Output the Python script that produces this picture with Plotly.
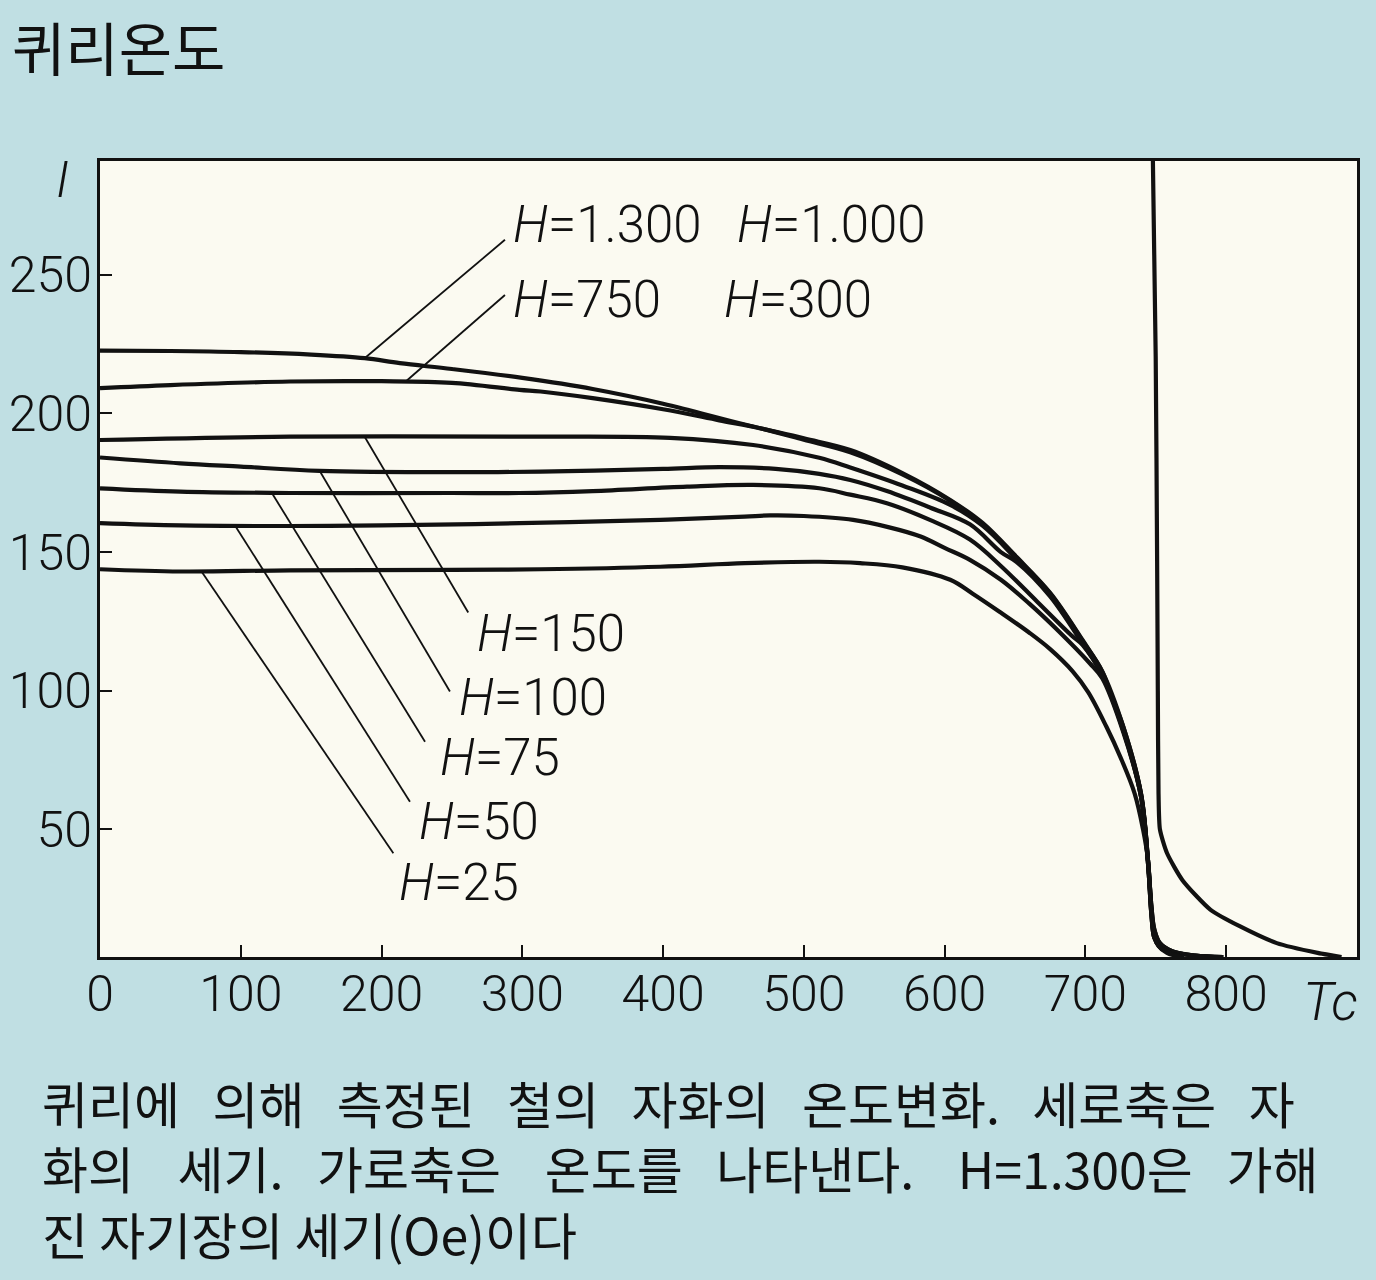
import numpy as np
import plotly.graph_objects as go

# ---------------- data ----------------
# temperature (deg C) and intensity of magnetisation I for each applied field H (Oe)
T_1300 = [0, 50, 100, 150, 188, 213, 250, 300, 350, 400, 458, 500, 533, 570, 604, 627, 651, 675, 698, 712, 718, 727, 739.5, 744.5, 747, 749, 753, 762, 778, 798]
I_1300 = [222.6, 222.5, 222.1, 221.2, 219.9, 218.1, 216.0, 212.8, 208.8, 203.5, 196.0, 191.0, 186.8, 178.5, 168.8, 160.5, 148.3, 135.3, 118.3, 107, 99, 87, 63, 39, 22, 14, 9, 6, 4.5, 4]

T_750 = [0, 50, 135, 200, 250, 298, 313, 350, 400, 440, 470, 500, 533, 570, 604, 627, 651, 675, 698, 712, 727, 739.5, 744.5, 747, 749, 753, 762, 778, 798]
I_750 = [209.1, 210.2, 211.5, 211.6, 211.0, 208.5, 207.9, 205.5, 201.5, 197.5, 194.5, 190.5, 186.0, 178.0, 168.5, 160.0, 148.0, 135.0, 118.0, 107, 87, 63, 39, 22, 14, 9, 6, 4.5, 4]

T_150 = [0, 135, 298, 405, 464, 511, 533, 570, 604, 627, 651, 675, 698, 712, 727, 739.5, 744.5, 747, 749, 753, 762, 778, 798]
I_150 = [190.4, 191.6, 191.6, 191.2, 188.6, 184.0, 180.5, 174.0, 167.0, 159.5, 147.5, 134.5, 117.5, 106, 86, 63, 39, 21, 13, 8.5, 6, 4.5, 4]

T_100 = [0, 57, 100, 156, 250, 313, 400, 440, 480, 511, 533, 559, 590, 618, 640, 651, 675, 698, 712, 727, 739.5, 744.5, 747, 749, 753, 760, 770]
I_100 = [184.1, 182.0, 180.8, 179.3, 178.8, 179.0, 180.0, 180.6, 180.0, 178.2, 176.0, 172.0, 166.0, 160.0, 150.0, 146.5, 134.0, 117.0, 106, 86, 62, 38, 19, 11, 7.5, 5.5, 4]

T_75 = [0, 57, 135, 250, 298, 350, 417, 464, 511, 533, 559, 590, 618, 640, 666, 690, 698, 712, 727, 739.5, 744.5, 747, 749, 753, 760, 770]
I_75 = [173.0, 171.8, 171.3, 171.3, 171.3, 172.0, 173.6, 174.2, 173.0, 170.7, 167.6, 161.5, 154.5, 145.0, 132.0, 120.0, 116.5, 105.5, 85.5, 62, 38, 19, 11, 7.5, 5.5, 4]

T_50 = [0, 57, 135, 200, 298, 398, 458, 476, 500, 535, 560, 583, 600, 618, 640, 660, 680, 703, 712, 727, 739.5, 744.5, 747, 749, 753, 760, 770]
I_50 = [160.4, 159.6, 159.4, 159.6, 160.4, 161.6, 162.8, 163.2, 163.0, 161.6, 159.0, 155.6, 151.5, 147.2, 140.0, 131.5, 122.0, 110.0, 104.5, 85.0, 62, 38, 19, 11, 7.5, 5.5, 4]

T_25 = [0, 57, 135, 250, 313, 398, 458, 511, 540, 570, 604, 620, 639, 660, 675, 691, 702, 715, 725, 735, 741, 744.5, 747, 749, 752, 758, 768]
I_25 = [143.8, 143.0, 143.4, 143.6, 143.8, 144.7, 146.0, 146.5, 146.0, 144.5, 140.0, 135.0, 128.5, 121.0, 115.0, 107.0, 99.5, 87.0, 76.0, 63.0, 50.0, 39.0, 20, 12, 8, 5.5, 4]

# steep line at the Curie point and its paramagnetic tail
T_curie = [748, 750, 751, 751.5, 752, 753, 758, 769, 789, 810, 836, 865, 882]
I_curie = [291, 220, 147, 100, 63, 50, 41.5, 31.7, 21, 15, 9, 5.5, 4]

X_TICKS = [0, 100, 200, 300, 400, 500, 600, 700, 800]
X_TICKTEXT = ["0", "100", "200", "300", "400", "500", "600", "700", "800"]
Y_TICKS = [50, 100, 150, 200, 250]
Y_TICKTEXT = ["50", "100", "150", "200", "250"]

SERIES = [
    ("H=1300, H=1000", T_1300, I_1300),
    ("H=750, H=300", T_750, I_750),
    ("H=150", T_150, I_150),
    ("H=100", T_100, I_100),
    ("H=75", T_75, I_75),
    ("H=50", T_50, I_50),
    ("H=25", T_25, I_25),
]

# curve labels: (texts, index of series, temperature where the leader meets the curve)
LABELS = [
    (["<i>H</i>=1.300", "<i>H</i>=1.000"], 0, 188),
    (["<i>H</i>=750", "<i>H</i>=300"], 1, 217),
    (["<i>H</i>=150"], 2, 188),
    (["<i>H</i>=100"], 3, 156),
    (["<i>H</i>=75"], 4, 122),
    (["<i>H</i>=50"], 5, 96),
    (["<i>H</i>=25"], 6, 72),
]
# label placement (data coords): leader end point, text positions (left edge, middle)
LEADER_END = [(287.7, 262.6), (287.7, 242.7), (261.6, 128.2), (248.6, 99.7),
              (230.9, 81.6), (220.2, 60.0), (208.4, 41.4)]
TEXT_POS = [[(292, 268), (451, 268)], [(292, 241), (442, 241)], [(266.4, 120.8)],
            [(253.6, 97.7)], [(240.1, 76.1)], [(225.2, 53.0)], [(211.0, 31.0)]]

TITLE = "퀴리온도"
S2 = "\u00a0 "
S3 = "\u00a0\u2009 "
S4 = "\u00a0\u00a0 "
S5 = "\u00a0\u00a0\u2009 "
CAPTION_WORDS = [
    (["퀴리에", "의해", "측정된", "철의", "자화의", "온도변화.", "세로축은", "자"],
     [S3, S3, S3, S3, S3, S3, S3]),
    (["화의", "세기.", "가로축은", "온도를", "나타낸다.", "H=1.300은", "가해"],
     [S5, S4, S5, S4, S5, S4]),
    (["진", "자기장의", "세기(Oe)이다"], [" ", " "]),
]
CAPTION = []
for words, gaps in CAPTION_WORDS:
    s = words[0]
    for g, w in zip(gaps, words[1:]):
        s += g + w
    CAPTION.append(s)

# ---------------- styling ----------------
NUM_FONT = "Liberation Sans Narrow, Roboto, Liberation Sans, sans-serif"
KR_FONT = "Noto Sans CJK KR, sans-serif"
INK = "#111111"
PAPER = "#c0dfe3"
PLOT_BG = "#fbfaf1"

W, H = 1376, 1280
ML, MR, MT, MB = 100, 19, 161, 323
PW, PH = W - ML - MR, H - MT - MB


def px(xp):
    return (xp - ML) / PW


def py(yp):
    return (H - MB - yp) / PH


fig = go.Figure()
for name, t, i in SERIES:
    fig.add_trace(go.Scatter(x=t, y=i, mode="lines", name=name,
                             line=dict(color=INK, width=4.2, shape="spline", smoothing=1.0),
                             hoverinfo="skip"))
fig.add_trace(go.Scatter(x=T_curie, y=I_curie, mode="lines", name="Tc",
                         line=dict(color=INK, width=4.2, shape="spline", smoothing=0.6),
                         hoverinfo="skip"))

shapes = []
annotations = []
for (texts, si, t_anchor), (ex, ey), tpos in zip(LABELS, LEADER_END, TEXT_POS):
    _, tt, ii = SERIES[si]
    iy = float(np.interp(t_anchor, tt, ii))
    shapes.append(dict(type="line", xref="x", yref="y", x0=t_anchor, y0=iy, x1=ex, y1=ey,
                       line=dict(color=INK, width=1.8), layer="above"))
    for txt, (tx, ty) in zip(texts, tpos):
        annotations.append(dict(text=txt, x=tx, y=ty, xref="x", yref="y", xanchor="left",
                                yanchor="middle", showarrow=False,
                                font=dict(family=NUM_FONT, size=51, color=INK, weight=300)))

annotations.append(dict(text=TITLE, x=px(10), y=py(46), xref="paper", yref="paper",
                        xanchor="left", yanchor="middle", showarrow=False,
                        font=dict(family=KR_FONT, size=58, color=INK)))
annotations.append(dict(text="<i>I</i>", x=px(62), y=py(180), xref="paper", yref="paper",
                        xanchor="center", yanchor="middle", showarrow=False,
                        font=dict(family=NUM_FONT, size=50, color=INK, weight=300)))
annotations.append(dict(text="<i>Tc</i>", x=px(1330), y=py(1002), xref="paper", yref="paper",
                        xanchor="center", yanchor="middle", showarrow=False,
                        font=dict(family=NUM_FONT, size=53, color=INK, weight=300)))
for line, yc in zip(CAPTION, [1102, 1167, 1233]):
    annotations.append(dict(text=line, x=px(40), y=py(yc), xref="paper", yref="paper",
                            xanchor="left", yanchor="middle", showarrow=False,
                            font=dict(family=KR_FONT, size=50, color=INK)))

axis_common = dict(showgrid=False, zeroline=False, showline=True, linecolor=INK, linewidth=3,
                   mirror=True, ticks="inside", ticklen=12, tickwidth=2, tickcolor=INK,
                   automargin=False,
                   tickfont=dict(family=NUM_FONT, size=50, color=INK, weight=300))

fig.update_layout(
    width=W, height=H, margin=dict(l=ML, r=MR, t=MT, b=MB, autoexpand=False),
    paper_bgcolor=PAPER, plot_bgcolor=PLOT_BG, showlegend=False,
    xaxis=dict(range=[0, 893], tickvals=X_TICKS, ticktext=X_TICKTEXT, ticklabelstandoff=-9,
               **axis_common),
    yaxis=dict(range=[4, 291], tickvals=Y_TICKS, ticktext=Y_TICKTEXT, ticklabelstandoff=-5,
               **axis_common),
    shapes=shapes, annotations=annotations,
)

fig.write_html("out.html", config={"displayModeBar": False},
               post_script="document.body.style.margin='0px';")
